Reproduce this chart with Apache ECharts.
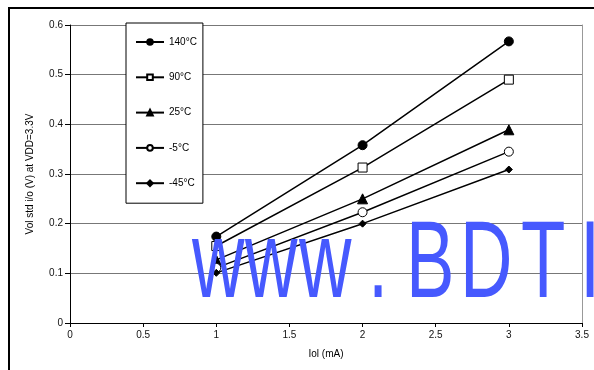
<!DOCTYPE html>
<html><head><meta charset="utf-8">
<script src="https://cdn.jsdelivr.net/npm/echarts@6/dist/echarts.min.js"></script>
<style>html,body{margin:0;padding:0;background:#fff}#c{width:594px;height:370px}</style>
</head><body><div id="c"></div>
<script>
var xValues = [1, 2, 3];
var seriesNames = ['140°C', '90°C', '25°C', '-5°C', '-45°C'];
var v140 = [0.174, 0.358, 0.567];
var v90 = [0.155, 0.313, 0.490];
var v25 = [0.127, 0.250, 0.389];
var vm5 = [0.111, 0.223, 0.345];
var vm45 = [0.101, 0.200, 0.309];
var yTicks = ['0', '0.1', '0.2', '0.3', '0.4', '0.5', '0.6'];
var xTicks = ['0', '0.5', '1', '1.5', '2', '2.5', '3', '3.5'];

var allValues = [v140, v90, v25, vm5, vm45];
var symbols = [
  {symbol: 'circle', size: 9, fill: '#000'},
  {symbol: 'rect', size: 9, fill: '#fff'},
  {symbol: 'triangle', size: 10, fill: '#000'},
  {symbol: 'circle', size: 9, fill: '#fff'},
  {symbol: 'diamond', size: 7, fill: '#000'}
];
var font = 'Liberation Sans, Arial, sans-serif';

function pairs(vals) { return xValues.map(function (x, i) { return [x, vals[i]]; }); }

var series = seriesNames.map(function (n, i) {
  return {
    name: n, type: 'line', data: pairs(allValues[i]),
    symbol: symbols[i].symbol, symbolSize: symbols[i].size, showAllSymbol: true,
    lineStyle: {color: '#000', width: 1.5},
    itemStyle: {color: symbols[i].fill, borderColor: '#000', borderWidth: 1},
    emphasis: {disabled: true}, animation: false, z: 3
  };
});

function wmText(t, x) {
  return {type: 'text', left: x, top: 212, scaleX: 0.66, z: 100,
    style: {text: t, fill: '#4659fe', font: '110px ' + font}};
}

var chart = echarts.init(document.getElementById('c'), null, {renderer: 'canvas'});
chart.setOption({
  animation: false,
  backgroundColor: '#fff',
  textStyle: {fontFamily: font},
  grid: {left: 70, right: 12, top: 25, bottom: 47},
  legend: {
    orient: 'vertical', left: 126, top: 23,
    itemWidth: 28, itemHeight: 7, itemGap: 25.3,
    padding: [14, 6, 15, 9],
    borderColor: '#000', borderWidth: 1, backgroundColor: '#fff',
    textStyle: {fontSize: 10, color: '#000', fontFamily: font},
    data: seriesNames, z: 10
  },
  xAxis: {
    type: 'value', min: 0, max: 3.5, interval: 0.5,
    name: 'Iol (mA)', nameLocation: 'middle', nameGap: 26,
    nameTextStyle: {fontSize: 10, color: '#000'},
    axisLine: {lineStyle: {color: '#000', width: 1}},
    axisTick: {show: true, length: 4, lineStyle: {color: '#000'}},
    axisLabel: {fontSize: 10, color: '#111', margin: 7,
      formatter: function (v) { var s = String(+v.toFixed(1)); return xTicks.indexOf(s) >= 0 ? s : ''; }},
    splitLine: {show: false}
  },
  yAxis: [{
    type: 'value', min: 0, max: 0.6, interval: 0.1,
    name: 'Vol std i/o (V) at VDD=3.3V', nameLocation: 'middle', nameGap: 35,
    nameTextStyle: {fontSize: 10, color: '#000'},
    axisLine: {show: true, lineStyle: {color: '#000', width: 1}},
    axisTick: {show: true, length: 5, lineStyle: {color: '#000'}},
    axisLabel: {fontSize: 10, color: '#111', margin: 7,
      formatter: function (v) { var s = String(+v.toFixed(1)); return yTicks.indexOf(s) >= 0 ? s : ''; }},
    splitLine: {show: true, lineStyle: {color: '#777', width: 1}}
  }, {
    type: 'value', min: 0, max: 0.6, interval: 0.1, position: 'right',
    axisLine: {show: true, lineStyle: {color: '#999', width: 1}},
    axisTick: {show: false}, axisLabel: {show: false}, splitLine: {show: false}
  }],
  series: series,
  graphic: [
    {type: 'rect', shape: {x: 9, y: 8, width: 800, height: 600}, z: 50,
      style: {fill: 'none', stroke: '#000', lineWidth: 2}},
    wmText('w', 192), wmText('w', 245), wmText('w', 299),
    wmText('.', 368), wmText('B', 406), wmText('D', 460), wmText('T', 521), wmText('I', 580)
  ]
});
</script></body></html>
